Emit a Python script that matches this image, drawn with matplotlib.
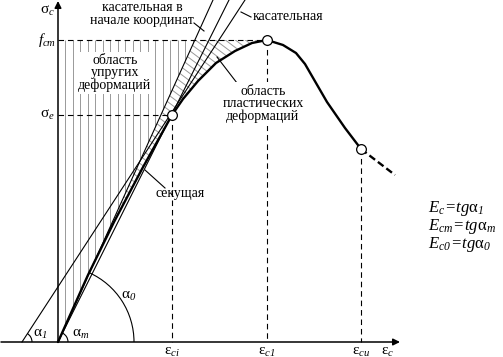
import matplotlib
matplotlib.use('Agg')
import matplotlib.pyplot as plt
from matplotlib.patches import Polygon, Arc
import numpy as np

plt.rcParams['font.family'] = ['Liberation Serif', 'DejaVu Serif']
plt.rcParams['mathtext.fontset'] = 'custom'
plt.rcParams['mathtext.rm'] = 'Liberation Serif:italic'
plt.rcParams['mathtext.it'] = 'Liberation Serif:italic'

# stress-strain curve (schematic units, origin at axis crossing)
eps_curve = [0, 30, 56, 84, 114, 125, 140, 158, 177, 194, 209, 225, 238, 247, 258, 269, 287, 303]
sig_curve = [0, 67, 120, 173, 227, 243, 261, 279, 291, 299, 302, 297, 289, 278, 259, 240, 214, 193]
eps_tail = [303, 320, 337]
sig_tail = [193, 180, 167]

# characteristic points
eps_ci, sig_e = 114, 227
eps_c1, f_cm = 209, 302
eps_cu, sig_cu = 303, 193

# straight lines: (x at sigma=0, x at top)
top = 342
tan0 = (0, 155)      # tangent at origin
secant = (0, 171)    # secant through sigma_e
tan_e = (-36, 187)   # tangent at sigma_e

hatch_step = 7.5

fig = plt.figure(figsize=(5.03, 3.57), dpi=100)
ax = fig.add_axes([0, 0, 1, 1])
ax.set_xlim(-58, 445)
ax.set_ylim(-15, 342)
ax.axis('off')

def tan0_x(s):
    return tan0[0] + (tan0[1] - tan0[0]) * s / top

# vertical hatch - elastic area
poly_el = Polygon([(0, 0), (0, f_cm), (tan0_x(f_cm), f_cm)], closed=True,
                  facecolor='none', edgecolor='none')
ax.add_patch(poly_el)
xs = np.arange(hatch_step, tan0_x(f_cm) + 1, hatch_step)
vl = ax.vlines(xs, 0, f_cm, colors='#999999', lw=0.7)
vl.set_clip_path(poly_el)

# diagonal hatch - plastic area
i_peak = eps_curve.index(eps_c1)
pts = [(0, 0), (tan0_x(f_cm), f_cm)] + list(zip(eps_curve[i_peak::-1], sig_curve[i_peak::-1]))
poly_pl = Polygon(pts, closed=True, facecolor='none', edgecolor='none')
ax.add_patch(poly_pl)
k = 0.75
for c in np.arange(0, 480, 7.5):
    ln, = ax.plot([0, 260], [c, c - k * 260], color='#999999', lw=0.7)
    ln.set_clip_path(poly_pl)

# tangent and secant lines
for x0, x1 in (tan0, secant, tan_e):
    ax.plot([x0, x1], [0, top], color='black', lw=0.8)

# dashed guides
dash = dict(color='black', lw=0.8, ls=(0, (5, 3.5)))
ax.plot([0, eps_c1], [f_cm, f_cm], **dash)
ax.plot([0, eps_ci], [sig_e, sig_e], **dash)
ax.plot([eps_ci, eps_ci], [sig_e, 0], **dash)
ax.plot([eps_c1, eps_c1], [f_cm, 0], **dash)
ax.plot([eps_cu, eps_cu], [sig_cu, 0], **dash)

# curve
ax.plot(eps_curve, sig_curve, color='black', lw=1.7, solid_capstyle='round')
ax.plot(eps_tail, sig_tail, color='black', lw=1.7, ls=(0, (3, 1.5)))
ax.plot([eps_ci, eps_c1, eps_cu], [sig_e, f_cm, sig_cu], 'o', ms=7,
        mfc='white', mec='black', mew=0.9, zorder=5)

# axes with arrows
ax.annotate('', xy=(342, 0), xytext=(-57, 0),
            arrowprops=dict(arrowstyle='-|>', color='black', lw=1.1,
                            mutation_scale=10, shrinkA=0, shrinkB=0))
ax.annotate('', xy=(0, 341), xytext=(0, 0),
            arrowprops=dict(arrowstyle='-|>', color='black', lw=1.1,
                            mutation_scale=10, shrinkA=0, shrinkB=0))

# angle arcs
ang0 = np.degrees(np.arctan2(top, tan0[1] - tan0[0]))
ang_m = np.degrees(np.arctan2(top, secant[1] - secant[0]))
ang1 = np.degrees(np.arctan2(top, tan_e[1] - tan_e[0]))
ax.add_patch(Arc((0, 0), 152, 152, theta1=0, theta2=ang0, color='black', lw=0.8))
ax.add_patch(Arc((0, 0), 20, 20, theta1=0, theta2=ang_m, color='black', lw=0.8))
ax.add_patch(Arc((tan_e[0], 0), 20, 20, theta1=0, theta2=ang1, color='black', lw=0.8))

fs = 10
ax.text(-18, 8, r'α$_{1}$', fontsize=fs + 1, ha='center', va='center')
ax.text(23, 8, r'α$_m$', fontsize=fs + 1, ha='center', va='center')
ax.text(71, 46, r'α$_{0}$', fontsize=fs + 1, ha='center', va='center')

# axis labels
ax.text(-11, 331, r'σ$_c$', fontsize=fs + 1, ha='center', va='center')
ax.text(-11, f_cm, r'$f_{cm}$', fontsize=fs + 1, ha='center', va='center')
ax.text(-11, sig_e, r'σ$_e$', fontsize=fs + 1, ha='center', va='center')
ax.text(eps_ci, -10, r'ε$_{ci}$', fontsize=fs + 1, ha='center', va='center')
ax.text(eps_c1, -10, r'ε$_{c1}$', fontsize=fs + 1, ha='center', va='center')
ax.text(eps_cu, -10, r'ε$_{cu}$', fontsize=fs + 1, ha='center', va='center')
ax.text(330, -10, r'ε$_c$', fontsize=fs + 1, ha='center', va='center')

# annotations
ax.text(57, 269, 'область\nупругих\nдеформаций', fontsize=fs, ha='center', va='center',
        linespacing=0.95, bbox=dict(fc='white', ec='none', pad=1))
ax.text(205, 238, 'область\nпластических\nдеформаций', fontsize=fs, ha='center', va='center',
        linespacing=0.95, bbox=dict(fc='white', ec='none', pad=2))
ax.plot([179, 159], [259, 285], color='black', lw=0.8)

ax.text(84, 328, 'касательная в\nначале координат', fontsize=fs, ha='center', va='center',
        linespacing=0.95)
ax.plot([136, 146], [319, 311], color='black', lw=0.8)

ax.text(195, 325, 'касательная', fontsize=fs, ha='left', va='center')
ax.plot([183, 193], [330, 325], color='black', lw=0.8)

ax.text(122, 149, 'секущая', fontsize=fs, ha='center', va='center')
ax.plot([107, 87], [154, 172], color='black', lw=0.8)

# moduli
ax.text(370, 134, r'$E_c\!=\!tg$α$_{1}$', fontsize=fs + 2, ha='left', va='center')
ax.text(370, 115, r'$E_{cm}\!=\!tg$α$_m$', fontsize=fs + 2, ha='left', va='center')
ax.text(370, 97, r'$E_{c0}\!=\!tg$α$_{0}$', fontsize=fs + 2, ha='left', va='center')

fig.savefig('out.png', dpi=100, facecolor='white')
